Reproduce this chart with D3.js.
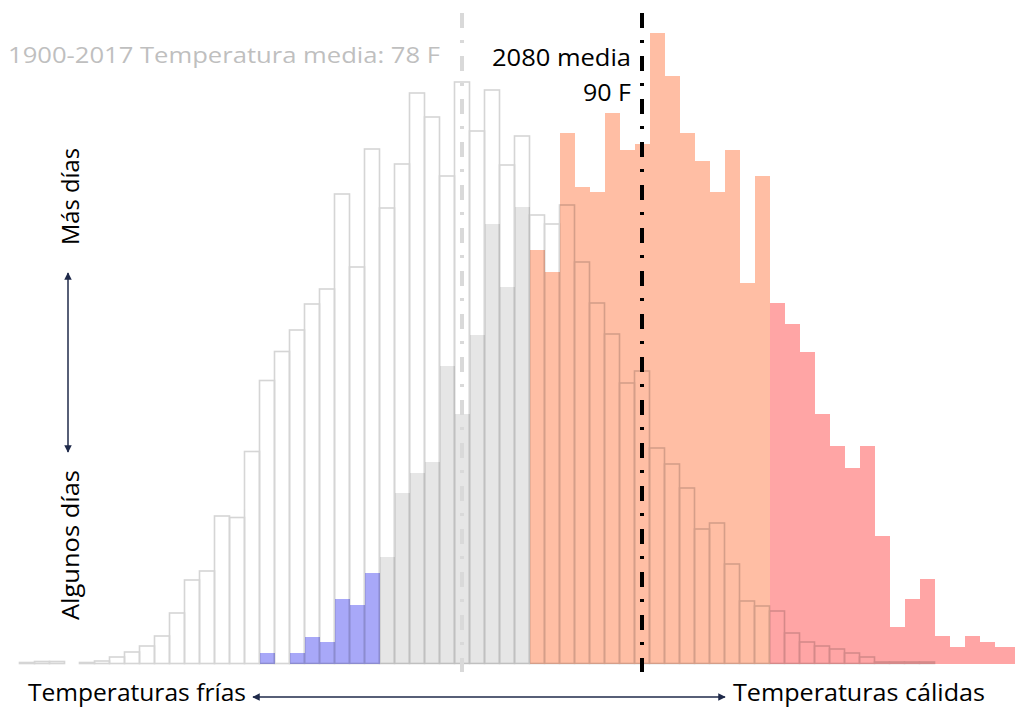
<!DOCTYPE html>
<html>
<head>
<meta charset="utf-8">
<script src="https://cdn.jsdelivr.net/npm/d3@7"></script>
<style>
  html, body { margin: 0; padding: 0; background: #fff; }
  svg { display: block; }
  text { font-family: "Open Sans", "Noto Sans", sans-serif; }
</style>
</head>
<body>
<svg id="chart" width="1015" height="708"></svg>
<script>
// Temperature bins (°F), 1-degree wide
const temps = [49,50,51,52,53,54,55,56,57,58,59,60,61,62,63,64,65,66,67,68,69,70,71,72,73,74,75,76,77,78,79,80,81,82,83,84,85,86,87,88,89,90,91,92,93,94,95,96,97,98,99,100,101,102,103,104,105,106,107,108,109,110,111,112,113,114,115];
// 1900-2017 distribution (relative number of days)
const historical = [1,2,2,0,1,2.5,6.5,11.5,17.5,27.5,50.5,83.5,92.5,147.5,146,212,283,312,333.5,359.5,374.5,469.5,396.5,514.5,455.5,499.5,570.5,546.5,487.5,581.5,532.5,573.5,498.5,527.5,448.5,439.5,458.5,401.5,360.5,329.5,280.5,292.5,215.5,199.5,175.5,134.5,140.5,99.5,62.5,57.5,52.5,30.5,21.5,17.5,14.5,10.5,6.5,1.5,1.5,1.5,1.5,0,0,0,0,0,0];
// 2080 distribution (relative number of days)
const future = [0,0,0,0,0,0,0,0,0,0,0,0,0,0,0,0,10.5,0,10.5,26.5,21.5,64.5,58.5,90.5,106.5,170.5,190.5,201.5,297.5,249.5,328.5,439.5,376.5,456.5,413.5,391.5,530.5,476.5,471.5,550.5,513.5,519.5,630.5,587.5,530.5,502.5,471.5,513.5,380.5,487.5,360.5,339.5,311.5,249.5,217.5,195.5,217.5,127.5,36.5,64.5,84.5,27.5,16.5,27.5,21.5,16.5,16.5];
// Category thresholds (°F) and colours: frío, normal, cálido, muy cálido
const categoryEdges = [72.5, 82.5, 98.5];
const categoryColors = ["#a8a8f8", "#e6e6e6", "#ffbea4", "#ffa5a5"];
// Means
const histMean = 78;
const futureMean = 90;
const histLabel = "1900-2017 Temperatura media: 78 F";
const futureLabel1 = "2080 media";
const futureLabel2 = "90 F";
const yLabelTop = "Más días";
const yLabelBottom = "Algunos días";
const xLabelLeft = "Temperaturas frías";
const xLabelRight = "Temperaturas cálidas";

const svg = d3.select("#chart");
const W = 1015, H = 708;

const x = d3.scaleLinear().domain([48.5, 116.5]).range([19.5, 1039.5]);
const y = d3.scaleLinear().domain([0, 650]).range([663.5, 13.5]);
const color = d3.scaleThreshold().domain(categoryEdges).range(categoryColors);

const bins = temps.map((t, i) => ({t, h: historical[i], f: future[i]}));

svg.append("defs").append("clipPath").attr("id", "clip")
  .append("rect").attr("x", 0).attr("y", 0).attr("width", W).attr("height", H);

const plot = svg.append("g").attr("clip-path", "url(#clip)");

// Future distribution: filled bars
plot.append("g").selectAll("rect")
  .data(bins.filter(d => d.f > 0))
  .join("rect")
  .attr("x", d => x(d.t - 0.5))
  .attr("width", d => x(d.t + 0.5) - x(d.t - 0.5))
  .attr("y", d => y(d.f))
  .attr("height", d => y(0) - y(d.f))
  .attr("fill", d => color(d.t))
  .attr("shape-rendering", "crispEdges");

// Historical distribution: outlined bars
plot.append("g").attr("opacity", 0.16).selectAll("rect")
  .data(bins.filter(d => d.h > 0))
  .join("rect")
  .attr("x", d => x(d.t - 0.5))
  .attr("width", d => x(d.t + 0.5) - x(d.t - 0.5))
  .attr("y", d => y(d.h))
  .attr("height", d => y(0) - y(d.h))
  .attr("fill", "none")
  .attr("stroke", "#000")
  .attr("stroke-width", 1.6);

// Mean lines
svg.append("line")
  .attr("x1", x(histMean)).attr("x2", x(histMean))
  .attr("y1", 13).attr("y2", 672)
  .attr("stroke", "#d9d9d9").attr("stroke-width", 4)
  .attr("stroke-dasharray", "15,12,3,13");
svg.append("line")
  .attr("x1", x(futureMean)).attr("x2", x(futureMean))
  .attr("y1", 13).attr("y2", 672)
  .attr("stroke", "#000").attr("stroke-width", 4)
  .attr("stroke-dasharray", "15,12,3,13");

// Labels for means
svg.append("text").attr("x", 8).attr("y", 63)
  .attr("font-size", 22).attr("fill", "#bfbfbf")
  .attr("textLength", 432).attr("lengthAdjust", "spacingAndGlyphs")
  .text(histLabel);
svg.append("text").attr("x", 492).attr("y", 66)
  .attr("font-size", 23).attr("fill", "#000")
  .attr("textLength", 139).attr("lengthAdjust", "spacingAndGlyphs")
  .text(futureLabel1);
svg.append("text").attr("x", 583).attr("y", 101)
  .attr("font-size", 23).attr("fill", "#000")
  .attr("textLength", 48).attr("lengthAdjust", "spacingAndGlyphs")
  .text(futureLabel2);

// Arrow markers
const navy = "#1f2a4a";
const defs = svg.select("defs");
defs.append("marker").attr("id", "arrow").attr("viewBox", "0 0 10 10")
  .attr("refX", 9).attr("refY", 5).attr("markerWidth", 5).attr("markerHeight", 5)
  .attr("orient", "auto-start-reverse").attr("markerUnits", "strokeWidth")
  .append("path").attr("d", "M0,0 L10,5 L0,10 z").attr("fill", navy);

// Vertical axis arrow and labels
svg.append("line").attr("x1", 68).attr("x2", 68).attr("y1", 273).attr("y2", 452)
  .attr("stroke", navy).attr("stroke-width", 1.5)
  .attr("marker-start", "url(#arrow)").attr("marker-end", "url(#arrow)");
svg.append("text").attr("transform", "translate(79,245) rotate(-90)")
  .attr("font-size", 24).attr("fill", "#000")
  .attr("textLength", 97).attr("lengthAdjust", "spacingAndGlyphs")
  .text(yLabelTop);
svg.append("text").attr("transform", "translate(79,620) rotate(-90)")
  .attr("font-size", 24).attr("fill", "#000")
  .attr("textLength", 150).attr("lengthAdjust", "spacingAndGlyphs")
  .text(yLabelBottom);

// Horizontal axis arrow and labels
svg.append("line").attr("x1", 253).attr("x2", 725).attr("y1", 697).attr("y2", 697)
  .attr("stroke", navy).attr("stroke-width", 1.5)
  .attr("marker-start", "url(#arrow)").attr("marker-end", "url(#arrow)");
svg.append("text").attr("x", 28).attr("y", 701)
  .attr("font-size", 23).attr("fill", "#000")
  .attr("textLength", 218).attr("lengthAdjust", "spacingAndGlyphs")
  .text(xLabelLeft);
svg.append("text").attr("x", 733).attr("y", 701)
  .attr("font-size", 23).attr("fill", "#000")
  .attr("textLength", 252).attr("lengthAdjust", "spacingAndGlyphs")
  .text(xLabelRight);
</script>
</body>
</html>
